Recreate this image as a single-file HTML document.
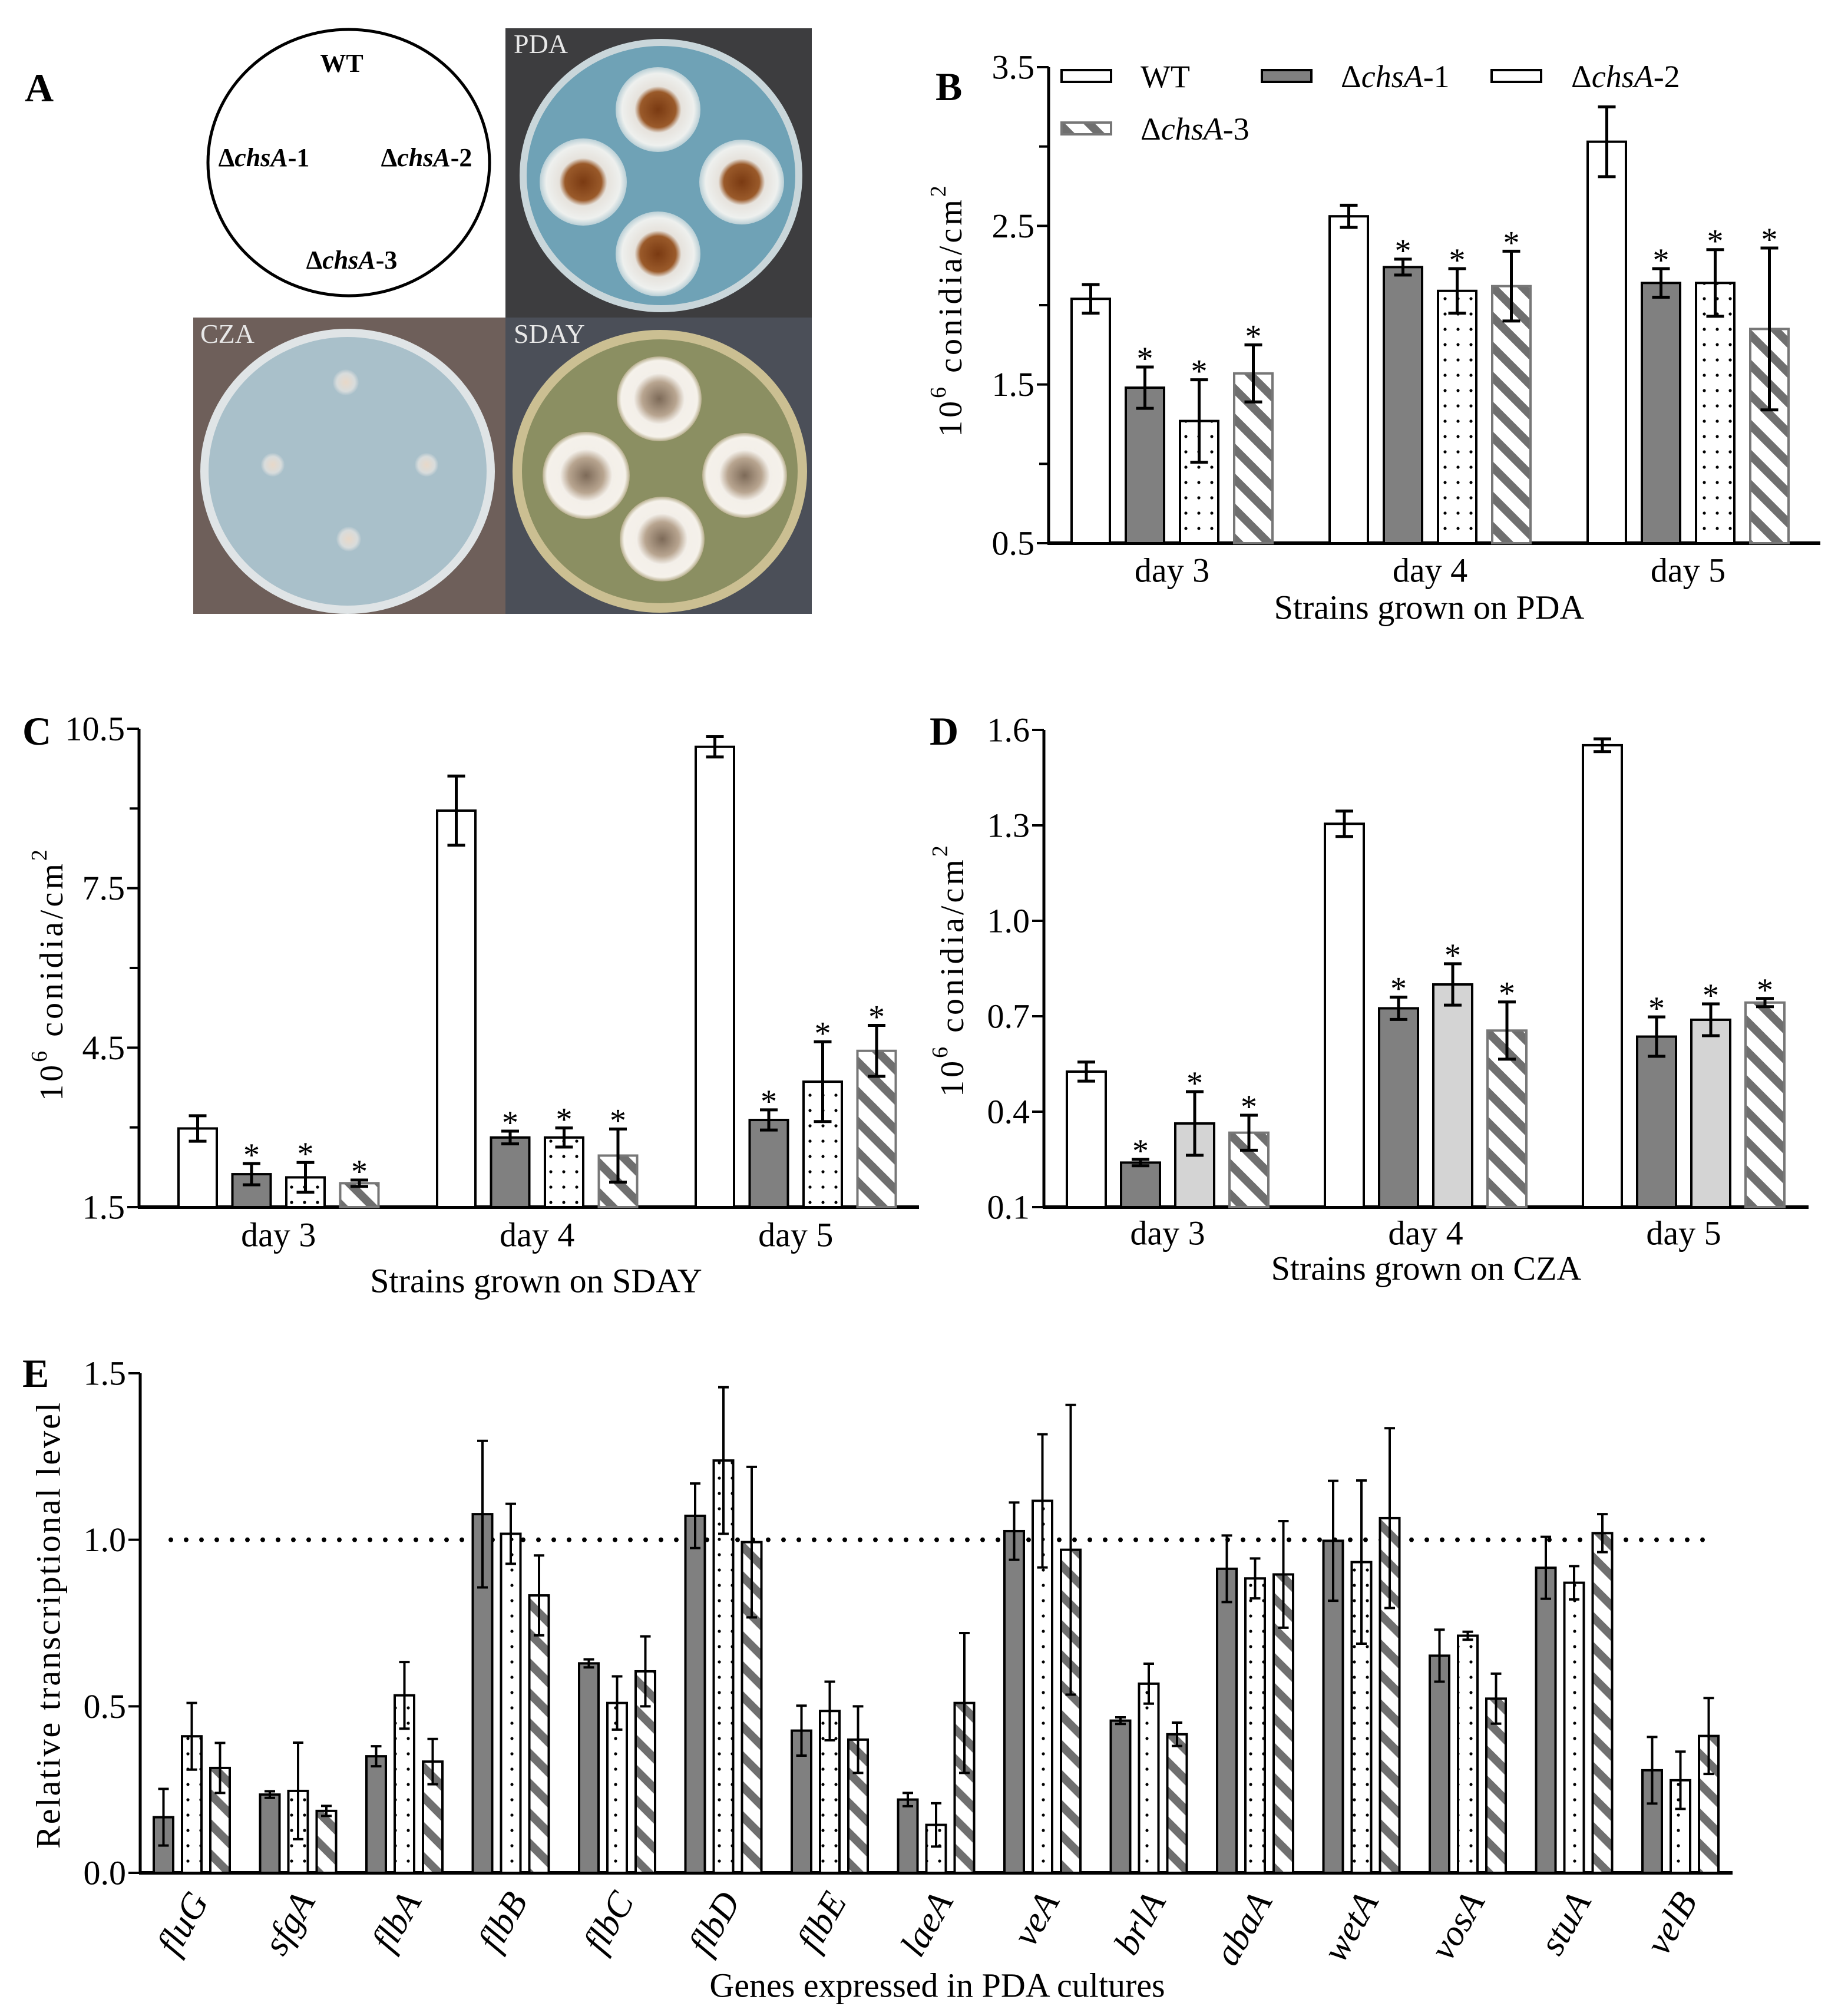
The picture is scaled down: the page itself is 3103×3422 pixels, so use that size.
<!DOCTYPE html>
<html><head><meta charset="utf-8"><title>chsA conidiation figure</title>
<style>
html,body{margin:0;padding:0;background:#fff;}
svg{display:block;font-family:"Liberation Serif","Times New Roman",serif;}
</style></head>
<body>
<svg id="fig" xmlns="http://www.w3.org/2000/svg" width="3103" height="3422" viewBox="0 0 3103 3422">
<defs>
  <pattern id="dots" width="22" height="26" patternUnits="userSpaceOnUse">
    <rect width="22" height="26" fill="#fff"/>
    <circle cx="11" cy="13" r="2.6" fill="#000"/>
  </pattern>
  <pattern id="hatch" width="36" height="36" patternUnits="userSpaceOnUse" patternTransform="rotate(-45)">
    <rect width="36" height="36" fill="#fff"/>
    <rect x="0" y="0" width="14" height="36" fill="#6f6f6f"/>
  </pattern>
  <radialGradient id="pdaCol" cx="50%" cy="50%" r="50%">
    <stop offset="0" stop-color="#7a3a12"/><stop offset="0.42" stop-color="#9a5a2a"/>
    <stop offset="0.55" stop-color="#e6e2dc"/><stop offset="0.85" stop-color="#eef0ee"/><stop offset="1" stop-color="#b9cfd6"/>
  </radialGradient>
  <radialGradient id="sdayCol" cx="50%" cy="50%" r="50%">
    <stop offset="0" stop-color="#7d6a58"/><stop offset="0.4" stop-color="#b8a590"/>
    <stop offset="0.6" stop-color="#f3efe9"/><stop offset="0.9" stop-color="#f5f1ea"/><stop offset="1" stop-color="#b6ad8c"/>
  </radialGradient>
  <radialGradient id="czaCol" cx="50%" cy="50%" r="50%">
    <stop offset="0" stop-color="#e8d8c8"/><stop offset="0.7" stop-color="#d8dcdc"/><stop offset="1" stop-color="#aec3cc"/>
  </radialGradient>
</defs>

<g>
  <text x="42" y="172" font-size="68" font-weight="bold">A</text>
  <ellipse cx="592" cy="276" rx="239" ry="226" fill="#fff" stroke="#000" stroke-width="5"/>
  <g font-size="44" font-weight="bold" text-anchor="middle" dominant-baseline="middle">
    <text x="580" y="112">WT</text>
    <text x="448" y="272">Δ<tspan font-style="italic">chsA</tspan>-1</text>
    <text x="724" y="272">Δ<tspan font-style="italic">chsA</tspan>-2</text>
    <text x="597" y="446">Δ<tspan font-style="italic">chsA</tspan>-3</text>
  </g>
  <g>
    <rect x="858" y="48" width="520" height="491" fill="#3d3d3f"/>
    <ellipse cx="1122" cy="298" rx="240" ry="232" fill="#c9d6da"/>
    <ellipse cx="1122" cy="298" rx="228" ry="220" fill="#6fa2b6"/>
    <circle cx="1117" cy="186" r="72" fill="url(#pdaCol)"/>
    <circle cx="990" cy="309" r="74" fill="url(#pdaCol)"/>
    <circle cx="1259" cy="309" r="72" fill="url(#pdaCol)"/>
    <circle cx="1117" cy="431" r="72" fill="url(#pdaCol)"/>
    <text x="872" y="90" font-size="46" fill="#e8e8e8">PDA</text>
  </g>
  <g>
    <rect x="328" y="539" width="530" height="503" fill="#6e5f5a"/>
    <ellipse cx="590" cy="800" rx="250" ry="242" fill="#dfe4e6"/>
    <ellipse cx="590" cy="800" rx="236" ry="228" fill="#a9c0ca"/>
    <circle cx="587" cy="649" r="22" fill="url(#czaCol)"/>
    <circle cx="463" cy="789" r="20" fill="url(#czaCol)"/>
    <circle cx="724" cy="789" r="20" fill="url(#czaCol)"/>
    <circle cx="592" cy="915" r="21" fill="url(#czaCol)"/>
    <text x="340" y="582" font-size="46" fill="#e8e8e8">CZA</text>
  </g>
  <g>
    <rect x="858" y="539" width="520" height="503" fill="#4b4f58"/>
    <ellipse cx="1120" cy="800" rx="250" ry="240" fill="#cbbf92"/>
    <ellipse cx="1120" cy="800" rx="234" ry="224" fill="#8b8f62"/>
    <circle cx="1119" cy="677" r="72" fill="url(#sdayCol)"/>
    <circle cx="995" cy="807" r="74" fill="url(#sdayCol)"/>
    <circle cx="1264" cy="807" r="72" fill="url(#sdayCol)"/>
    <circle cx="1124" cy="915" r="72" fill="url(#sdayCol)"/>
    <text x="872" y="582" font-size="46" fill="#e8e8e8">SDAY</text>
  </g>
</g>

<g id="charts"></g>
</svg>

<script>
// ===== Panel B data (PDA) =====
const bDays = ['day 3', 'day 4', 'day 5'];
const bTicks = [0.5, 1.5, 2.5, 3.5];
const bMinorTicks = [1.0, 2.0, 3.0];
const bWT = [2.04, 2.56, 3.03];
const bWTerr = [0.09, 0.07, 0.22];
const bD1 = [1.48, 2.24, 2.14];
const bD1err = [0.13, 0.05, 0.09];
const bD2 = [1.27, 2.09, 2.14];
const bD2err = [0.26, 0.14, 0.21];
const bD3 = [1.57, 2.12, 1.85];
const bD3err = [0.18, 0.22, 0.51];
const bSig = [[false,true,true,true],[false,true,true,true],[false,true,true,true]];

// ===== Panel C data (SDAY) =====
const cDays = ['day 3', 'day 4', 'day 5'];
const cTicks = [1.5, 4.5, 7.5, 10.5];
const cMinorTicks = [3.0, 6.0, 9.0];
const cWT = [2.98, 8.96, 10.16];
const cWTerr = [0.24, 0.65, 0.19];
const cD1 = [2.12, 2.81, 3.14];
const cD1err = [0.2, 0.12, 0.19];
const cD2 = [2.06, 2.81, 3.86];
const cD2err = [0.28, 0.18, 0.75];
const cD3 = [1.95, 2.47, 4.44];
const cD3err = [0.06, 0.5, 0.48];
const cSig = [[false,true,true,true],[false,true,true,true],[false,true,true,true]];

// ===== Panel D data (CZA) =====
const dDays = ['day 3', 'day 4', 'day 5'];
const dTicks = [0.1, 0.4, 0.7, 1.0, 1.3, 1.6];
const dMinorTicks = [];
const dWT = [0.526, 1.305, 1.552];
const dWTerr = [0.03, 0.04, 0.02];
const dD1 = [0.24, 0.725, 0.636];
const dD1err = [0.01, 0.035, 0.062];
const dD2 = [0.363, 0.80, 0.689];
const dD2err = [0.1, 0.065, 0.05];
const dD3 = [0.334, 0.655, 0.743];
const dD3err = [0.055, 0.09, 0.013];
const dSig = [[false,true,true,true],[false,true,true,true],[false,true,true,true]];

// ===== Panel E data (gene expression) =====
const eGenes = ['fluG','sfgA','flbA','flbB','flbC','flbD','flbE','laeA','veA','brlA','abaA','wetA','vosA','stuA','velB'];
const eTicks = [0.0, 0.5, 1.0, 1.5];
const eD1 = [0.167,0.235,0.35,1.077,0.629,1.072,0.427,0.22,1.026,0.457,0.913,0.997,0.652,0.916,0.308];
const eD1err = [0.085,0.01,0.03,0.22,0.012,0.097,0.075,0.02,0.086,0.01,0.1,0.18,0.078,0.093,0.1];
const eD2 = [0.41,0.246,0.533,1.018,0.51,1.238,0.486,0.144,1.117,0.568,0.884,0.933,0.712,0.871,0.278];
const eD2err = [0.1,0.145,0.1,0.09,0.08,0.22,0.088,0.065,0.2,0.06,0.06,0.245,0.012,0.05,0.086];
const eD3 = [0.315,0.186,0.334,0.833,0.605,0.993,0.40,0.51,0.97,0.416,0.896,1.065,0.523,1.02,0.411];
const eD3err = [0.075,0.015,0.068,0.12,0.105,0.226,0.1,0.21,0.435,0.035,0.16,0.27,0.075,0.057,0.114];
const eRef = 1.0;

const NS = 'http://www.w3.org/2000/svg';
const root = document.getElementById('charts');
function mk(tag, parent, attrs) {
  const el = document.createElementNS(NS, tag);
  for (const k in attrs) el.setAttribute(k, attrs[k]);
  parent.appendChild(el);
  return el;
}

const styles = {
  wt: {fill:'#fff', stroke:'#000'},
  d1: {fill:'#808080', stroke:'#000'},
  d2dot: {fill:'url(#dots)', stroke:'#000'},
  d2gray: {fill:'#d4d4d4', stroke:'#000'},
  d3: {fill:'url(#hatch)', stroke:'#777'},
  d3e: {fill:'url(#hatch)', stroke:'#000'}
};

function yAxis(g, c) {
  const sy = v => c.yBot - (v - c.min) / (c.max - c.min) * (c.yBot - c.yTop);
  const ax = mk('line', g, {x1:c.x0, y1:c.yTop, x2:c.x0, y2:c.yBot + 2, stroke:'#000', 'stroke-width':5});
  
  
  const bx = mk('line', g, {x1:c.x0 - 2, y1:c.yBot, x2:c.xEnd, y2:c.yBot, stroke:'#000', 'stroke-width':6});
  
  
  c.ticks.forEach(t => {
    const y = sy(t);
    mk('line', g, {x1:c.x0 - 20, y1:y, x2:c.x0, y2:y, stroke:'#000', 'stroke-width':4});
    const lb = mk('text', g, {x:c.x0 - 24, y:y, 'font-size':c.tickFont, 'text-anchor':'end', 'dominant-baseline':'central'});
    lb.textContent = t.toFixed(1);
    
    
  });
  (c.minor || []).forEach(t => {
    const y = sy(t);
    mk('line', g, {x1:c.x0 - 16, y1:y, x2:c.x0, y2:y, stroke:'#000', 'stroke-width':4});
  });
  return sy;
}

function errBar(g, x, y1, y2, cap, sw) {
  mk('line', g, {x1:x, y1:y1, x2:x, y2:y2, stroke:'#000', 'stroke-width':sw});
  mk('line', g, {x1:x - cap/2, y1:y1, x2:x + cap/2, y2:y1, stroke:'#000', 'stroke-width':sw});
  mk('line', g, {x1:x - cap/2, y1:y2, x2:x + cap/2, y2:y2, stroke:'#000', 'stroke-width':sw});
}

function dayChart(c) {
  const g = mk('g', root, {});
  
  
  const sy = yAxis(g, c);
  const series = [c.wt, c.d1, c.d2, c.d3];
  const errs = [c.wtE, c.d1E, c.d2E, c.d3E];
  const names = ['wt', 'chsa-1', 'chsa-2', 'chsa-3'];
  c.days.forEach((d, i) => {
    for (let s = 0; s < 4; s++) {
      const x = c.firstX + i * c.groupStride + s * c.barStride;
      const v = series[s][i];
      const y = sy(v);
      const st = c.styles[s];
      const r = mk('rect', g, {x:x, y:y, width:c.barW, height:c.yBot - y, fill:st.fill, stroke:st.stroke, 'stroke-width':4});
      
      
      const e = errs[s][i];
      const cx = x + c.barW / 2;
      errBar(g, cx, sy(v + e), sy(v - e), 30, 5);
      if (c.sig[i][s]) {
        const a = mk('text', g, {x:cx, y:sy(v + e) + 4, 'font-size':56, 'text-anchor':'middle'});
        a.textContent = '*';
        
        
      }
    }
    const gc = c.firstX + i * c.groupStride + (3 * c.barStride + c.barW) / 2;
    const dl = mk('text', g, {x:gc, y:c.dayY, 'font-size':58, 'text-anchor':'middle', 'dominant-baseline':'central'});
    dl.textContent = d;
    
    
  });
  const xt = mk('text', g, {x:c.xTitleX, y:c.xTitleY, 'font-size':58, 'text-anchor':'middle', 'dominant-baseline':'central'});
  xt.textContent = c.xTitle;
  
  
  const yt = mk('text', g, {x:0, y:0, 'font-size':56, 'text-anchor':'middle', 'dominant-baseline':'central', 'letter-spacing':'5', transform:'translate(' + c.yTitleX + ',' + c.yTitleY + ') rotate(-90)'});
  yt.innerHTML = '10<tspan baseline-shift="super" font-size="38">6</tspan> conidia/cm<tspan baseline-shift="super" font-size="38">2</tspan>';
  
  
  const pl = mk('text', g, {x:c.letterX, y:c.letterY, 'font-size':68, 'font-weight':'bold'});
  pl.textContent = c.letter;
  
  
  return g;
}

const gB = dayChart({id:'chart-b-pda', x0:1780, xEnd:3090, yTop:114, yBot:922, min:0.5, max:3.5,
  ticks:bTicks, minor:bMinorTicks, tickFont:58, days:bDays,
  wt:bWT, wtE:bWTerr, d1:bD1, d1E:bD1err, d2:bD2, d2E:bD2err, d3:bD3, d3E:bD3err, sig:bSig,
  styles:[styles.wt, styles.d1, styles.d2dot, styles.d3],
  firstX:1819, barW:65, barStride:92, groupStride:438,
  dayY:968, xTitle:'Strains grown on PDA', xTitleX:2426, xTitleY:1031, yTitleX:1614, yTitleY:526,
  letter:'B', letterX:1588, letterY:170});

(function(){
  const lg = mk('g', gB, {});
  
  
  const items = [
    {x:1802, y:119, st:styles.wt, tx:1936, label:'WT'},
    {x:2142, y:119, st:styles.d1, tx:2276, label:'chsA-1'},
    {x:2532, y:119, st:styles.d2dot, tx:2667, label:'chsA-2'},
    {x:1802, y:208, st:styles.d3, tx:1936, label:'chsA-3'}
  ];
  items.forEach(it => {
    const e = mk('g', lg, {});
    
    
    mk('rect', e, {x:it.x, y:it.y, width:84, height:20, fill:it.st.fill, stroke:it.st.stroke, 'stroke-width':4});
    const t = mk('text', e, {x:it.tx, y:it.y + 11, 'font-size':54, 'dominant-baseline':'central'});
    if (it.label === 'WT') t.textContent = 'WT';
    else t.innerHTML = 'Δ<tspan font-style="italic">chsA</tspan>' + it.label.slice(4);
  });
})();

dayChart({id:'chart-c-sday', x0:236, xEnd:1560, yTop:1237, yBot:2049, min:1.5, max:10.5,
  ticks:cTicks, minor:cMinorTicks, tickFont:58, days:cDays,
  wt:cWT, wtE:cWTerr, d1:cD1, d1E:cD1err, d2:cD2, d2E:cD2err, d3:cD3, d3E:cD3err, sig:cSig,
  styles:[styles.wt, styles.d1, styles.d2dot, styles.d3],
  firstX:303, barW:65, barStride:91.5, groupStride:439,
  dayY:2096, xTitle:'Strains grown on SDAY', xTitleX:910, xTitleY:2174, yTitleX:88, yTitleY:1653,
  letter:'C', letterX:38, letterY:1264});

dayChart({id:'chart-d-cza', x0:1772, xEnd:3070, yTop:1239, yBot:2049, min:0.1, max:1.6,
  ticks:dTicks, minor:dMinorTicks, tickFont:58, days:dDays,
  wt:dWT, wtE:dWTerr, d1:dD1, d1E:dD1err, d2:dD2, d2E:dD2err, d3:dD3, d3E:dD3err, sig:dSig,
  styles:[styles.wt, styles.d1, styles.d2gray, styles.d3],
  firstX:1811, barW:66, barStride:92, groupStride:438,
  dayY:2093, xTitle:'Strains grown on CZA', xTitleX:2421, xTitleY:2153, yTitleX:1617, yTitleY:1646,
  letter:'D', letterX:1578, letterY:1264});

(function(){
  const c = {id:'chart-e-genes', x0:238, xEnd:2941, yTop:2331, yBot:3179, min:0, max:1.5, ticks:eTicks, tickFont:58};
  const g = mk('g', root, {});
  
  
  const sy = yAxis(g, c);
  const ref = mk('line', g, {x1:290, y1:sy(eRef), x2:2900, y2:sy(eRef), stroke:'#000', 'stroke-width':8, 'stroke-dasharray':'0 26', 'stroke-linecap':'round'});
  
  
  const series = [eD1, eD2, eD3];
  const errs = [eD1err, eD2err, eD3err];
  const sts = [styles.d1, styles.d2dot, styles.d3e];
  const names = ['chsa-1', 'chsa-2', 'chsa-3'];
  const firstX = 261, barW = 33, barStride = 48, groupStride = 180.5;
  eGenes.forEach((gene, i) => {
    for (let s = 0; s < 3; s++) {
      const x = firstX + i * groupStride + s * barStride;
      const v = series[s][i];
      const y = sy(v);
      const r = mk('rect', g, {x:x, y:y, width:barW, height:c.yBot - y, fill:sts[s].fill, stroke:sts[s].stroke, 'stroke-width':4});
      
      
      const e = errs[s][i];
      errBar(g, x + barW / 2, sy(v + e), sy(v - e), 18, 4);
    }
    const gc = firstX + i * groupStride + (2 * barStride + barW) / 2;
    const t = mk('text', g, {x:0, y:0, 'font-size':62, 'font-style':'italic', 'text-anchor':'end', transform:'translate(' + (gc + 30) + ',' + (c.yBot + 48) + ') rotate(-60)'});
    t.textContent = gene;
    
    
  });
  const xt = mk('text', g, {x:1591, y:3370, 'font-size':58, 'text-anchor':'middle', 'dominant-baseline':'central'});
  xt.textContent = 'Genes expressed in PDA cultures';
  
  
  const yt = mk('text', g, {x:0, y:0, 'font-size':58, 'text-anchor':'middle', 'dominant-baseline':'central', 'letter-spacing':'3', transform:'translate(82,2758) rotate(-90)'});
  yt.textContent = 'Relative transcriptional level';
  
  
  const pl = mk('text', g, {x:38, y:2354, 'font-size':68, 'font-weight':'bold'});
  pl.textContent = 'E';
  
  
})();
</script>
</body></html>
